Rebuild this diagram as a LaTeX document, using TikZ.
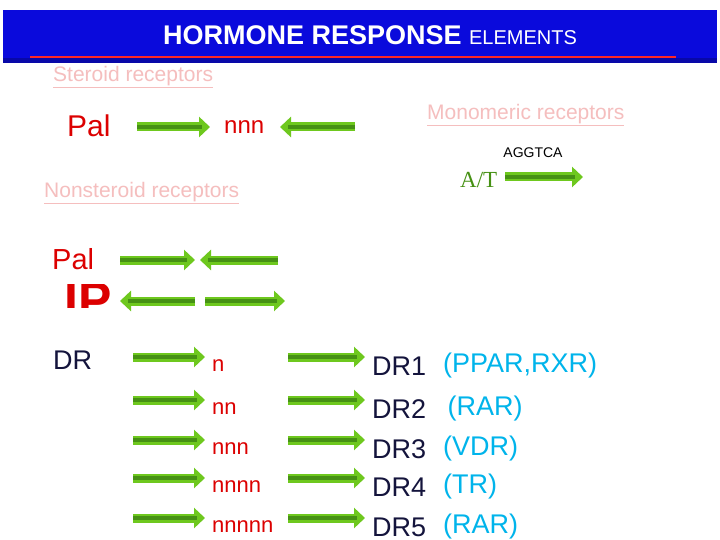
\documentclass[tikz,border=0pt]{standalone}
\usepackage{fontspec}
\setmainfont{Liberation Sans}
\newfontfamily\serifA{Liberation Serif}
\usetikzlibrary{arrows.meta}
\definecolor{hdrblue}{RGB}{10,10,220}
\definecolor{hdrdark}{RGB}{5,5,90}
\definecolor{pinkt}{RGB}{245,190,190}
\definecolor{redt}{RGB}{220,0,0}
\definecolor{navyt}{RGB}{20,20,60}
\definecolor{cyant}{RGB}{0,180,235}
\definecolor{gout}{RGB}{110,200,30}
\definecolor{gdark}{RGB}{70,145,20}
\begin{document}
\begin{tikzpicture}[x=1pt,y=-1pt,
  garr/.style={line width=9pt,gout,-{Triangle[length=11pt,width=20pt]}},
  ginner/.style={line width=3.5pt,gdark,shorten >=8pt},
  pk/.style={pinkt,font=\fontsize{21}{21}\selectfont,inner sep=0pt},
  rd/.style={redt,inner sep=0pt,anchor=west},
  dr/.style={navyt,font=\fontsize{27}{27}\selectfont,inner sep=0pt,anchor=west},
  cy/.style={cyant,font=\fontsize{27}{27}\selectfont,inner sep=0pt,anchor=west}]
\useasboundingbox (0,0) rectangle (720,540);
\fill[white] (0,0) rectangle (720,540);
\fill[hdrblue] (3,10) rectangle (717,63);
\fill[hdrdark,opacity=0.4] (3,58) rectangle (717,63);
\draw[line width=2.5pt,red!80!pink] (30,57) -- (676,57);
\node[white,inner sep=0pt] (title) at (370,35) {\fontsize{27}{27}\selectfont\bfseries HORMONE RESPONSE \fontsize{20}{20}\selectfont\mdseries ELEMENTS};
\node[pk,anchor=west] (ster) at (53,77) {\underline{Steroid receptors}};
\node[pk,anchor=west] (mono) at (427,115) {\underline{Monomeric receptors}};
\node[pk,anchor=west] (nons) at (44,193) {\underline{Nonsteroid receptors}};
\node[rd,font=\fontsize{30}{30}\selectfont] (pal1) at (67,126) {Pal};
\node[rd,font=\fontsize{24}{24}\selectfont] (nnn1) at (224,127) {nnn};
\node[inner sep=0pt,font=\fontsize{14}{14}\selectfont] (ag) at (533,153) {AGGTCA};
\node[inner sep=0pt,anchor=west,text=gdark,font=\serifA\fontsize{23}{23}\selectfont] (at) at (460,180) {A/T};
\node[rd,font=\fontsize{29}{29}\selectfont] (pal2) at (52,259) {Pal};
\begin{scope}
\clip (60,284) rectangle (300,307);
\node[rd,font=\fontsize{50}{50}\selectfont\bfseries] (ip) at (64,300) {IP};
\end{scope}
\node[dr] (drl) at (53,360) {DR};
\foreach \a/\b/\y [count=\i] in {137/210/127,505/583/177,120/195/260,205/285/301}{
  \coordinate (s\i) at (\a,\y); \coordinate (e\i) at (\b,\y);
  \draw[garr] (s\i) -- (e\i); \draw[ginner] (s\i) -- (e\i);}
\foreach \a/\b/\y [count=\i] in {355/280/127,278/200/260,195/120/301}{
  \coordinate (ls\i) at (\a,\y); \coordinate (le\i) at (\b,\y);
  \draw[garr] (ls\i) -- (le\i); \draw[ginner] (ls\i) -- (le\i);}
\foreach \y/\t/\d/\c [count=\i] in {357/n/DR1/{(PPAR,RXR)},400/nn/DR2/{\,(RAR)},440/nnn/DR3/{(VDR)},478/nnnn/DR4/{(TR)},518/nnnnn/DR5/{(RAR)}}{
  \coordinate (a\i) at (133,\y); \coordinate (b\i) at (205,\y);
  \draw[garr] (a\i) -- (b\i); \draw[ginner] (a\i) -- (b\i);
  \coordinate (c\i) at (288,\y); \coordinate (d\i) at (365,\y);
  \draw[garr] (c\i) -- (d\i); \draw[ginner] (c\i) -- (d\i);
  \node[rd,font=\fontsize{22}{22}\selectfont] (n\i) at (212,\y+9) {\t};
  \node[dr] (dr\i) at (372,\y+9) {\d};
  \node[cy] (cy\i) at (443,\y+9) {\c};
}
\end{tikzpicture}
\end{document}
